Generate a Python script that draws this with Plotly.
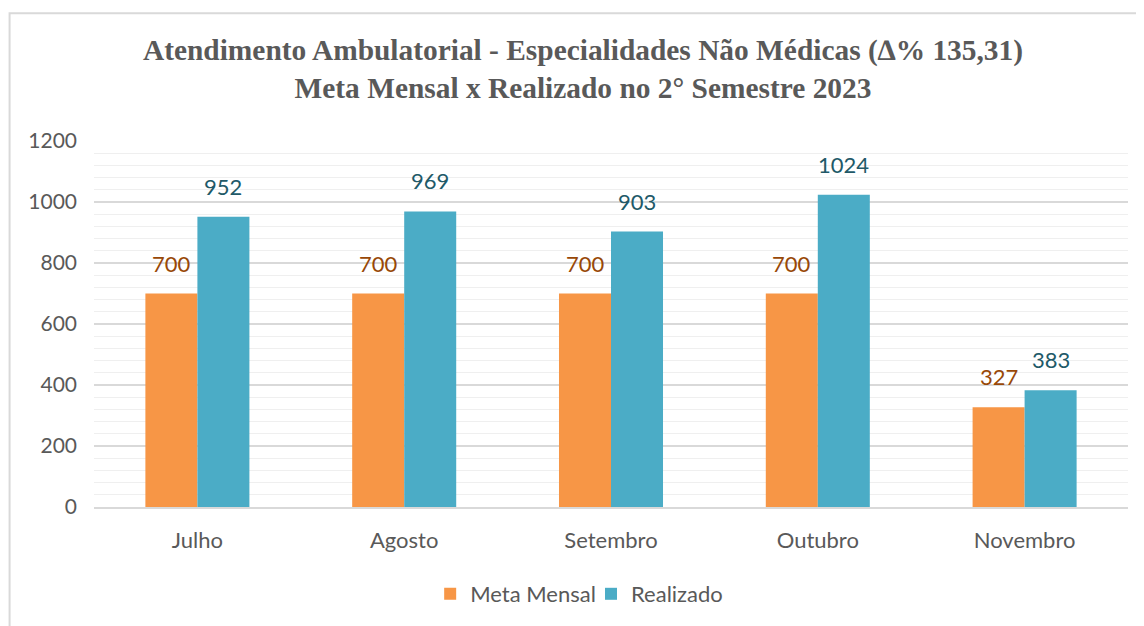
import plotly.graph_objects as go

categories = ["Julho", "Agosto", "Setembro", "Outubro", "Novembro"]
meta = [700, 700, 700, 700, 327]
realizado = [952, 969, 903, 1024, 383]
y_ticks = [0, 200, 400, 600, 800, 1000, 1200]

ORANGE = "#F79646"
BLUE = "#4BACC6"
ORANGE_TXT = "#984807"
BLUE_TXT = "#215968"
GRAY = "#595959"
FONT = "Lato"

# page body has an 8px margin; figure coordinates are page - 8
W, H = 1136, 618
L, T = 85.5, 133
R = W - 1120.5
B = H - 500
pw = W - L - R
ph = H - T - B

fig = go.Figure()
fig.add_trace(go.Bar(name="Meta Mensal", x=categories, y=meta, legend="legend", showlegend=True,
                     marker=dict(color=ORANGE, line=dict(width=0))))
fig.add_trace(go.Bar(name="Realizado", x=categories, y=realizado, legend="legend2", showlegend=True,
                     marker=dict(color=BLUE, line=dict(width=0))))

annotations = []
for c, v in zip(categories, meta):
    annotations.append(dict(x=c, y=v, xref="x", yref="y", text=str(v), showarrow=False,
                            xshift=-26, yshift=15, yanchor="bottom",
                            font=dict(family=FONT, size=22, color=ORANGE_TXT)))
for c, v in zip(categories, realizado):
    annotations.append(dict(x=c, y=v, xref="x", yref="y", text=str(v), showarrow=False,
                            xshift=26, yshift=15, yanchor="bottom",
                            font=dict(family=FONT, size=22, color=BLUE_TXT)))

leg_y = -(586 - (H - B)) / ph
leg_common = dict(orientation="h", xanchor="left", y=leg_y, yanchor="middle",
                  font=dict(family=FONT, size=22, color=GRAY), itemwidth=30,
                  bgcolor="rgba(0,0,0,0)", visible=True)

fig.update_layout(
    width=W, height=H,
    showlegend=True,
    margin=dict(l=L, r=R, t=T, b=B, pad=0),
    paper_bgcolor="white", plot_bgcolor="white",
    barmode="group", bargap=0.497, bargroupgap=0,
    title=dict(
        text="<b>Atendimento Ambulatorial - Especialidades Não Médicas (∆% 135,31)</b><br><b>Meta Mensal x Realizado no 2° Semestre 2023</b>",
        x=575 / W, xanchor="center", xref="container",
        y=1 - 51.5 / H, yanchor="middle", yref="container",
        font=dict(family="Liberation Serif", size=29.4, color=GRAY),
    ),
    legend=dict(x=(422 - L) / pw, **leg_common),
    legend2=dict(x=(583 - L) / pw, **leg_common),
    font=dict(family=FONT, size=21, color=GRAY),
    annotations=annotations,
    shapes=[dict(type="rect", xref="paper", yref="paper",
                 x0=(1 - L) / pw, x1=2, y0=-2, y1=(H - B - 5) / ph,
                 line=dict(color="#D9D9D9", width=2), fillcolor="rgba(0,0,0,0)", layer="below")],
)

fig.update_xaxes(showgrid=False, showline=True, linecolor="#D9D9D9", linewidth=2,
                 ticks="", tickfont=dict(family=FONT, size=22, color=GRAY), ticklabelstandoff=13)
fig.update_yaxes(range=[0, 1200], tickvals=y_ticks, showgrid=True, gridcolor="#D9D9D9", gridwidth=1.5,
                 zeroline=False, showline=False, ticks="",
                 tickfont=dict(family=FONT, size=21, color=GRAY), ticklabelstandoff=16,
                 minor=dict(dtick=40, showgrid=True, gridcolor="#EFEFEF", gridwidth=1))

fig.write_html("out.html")
